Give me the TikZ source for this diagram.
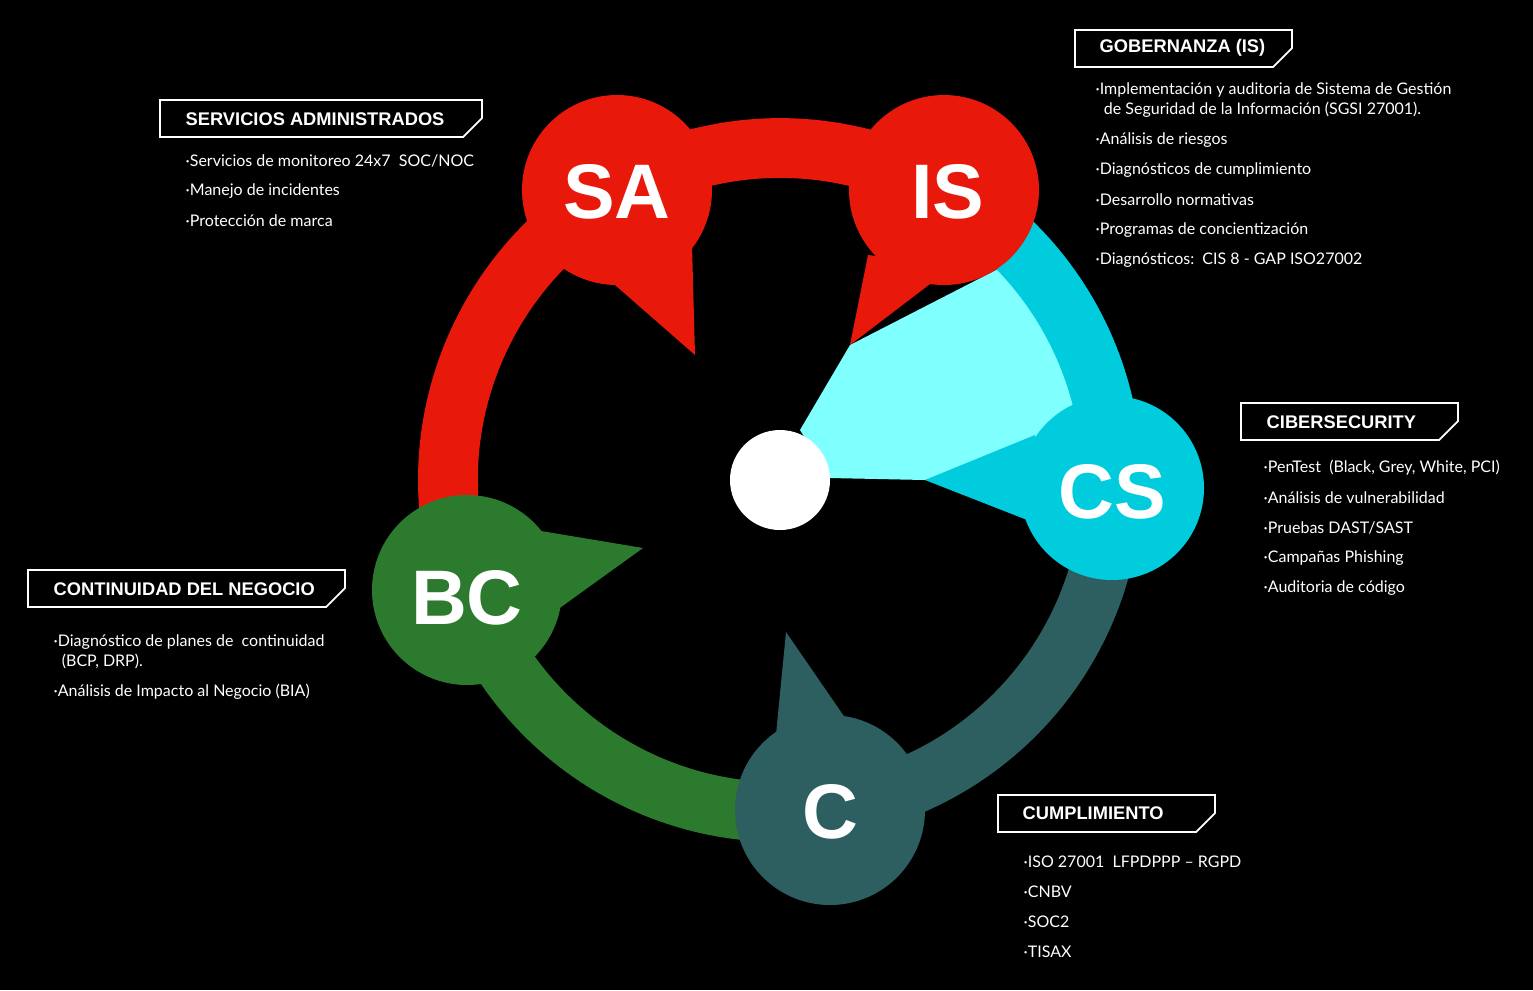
\documentclass[tikz,border=0pt]{standalone}
\usepackage{fontspec}
\setmainfont{Lato}
\newfontfamily\titf{Liberation Sans}
\begin{document}
\begin{tikzpicture}[x=0.01cm,y=-0.01cm,
  ttl/.style={anchor=west,text=white,font=\titf\bfseries\fontsize{5.2}{6}\selectfont,inner sep=0},
  itm/.style={anchor=west,text=white,font=\fontsize{4.55}{5.6}\selectfont,inner sep=0,align=left},
  big/.style={text=white,font=\titf\bfseries\fontsize{22}{24}\selectfont},
  box/.style={draw=white,line width=0.5pt}]
\definecolor{rd}{HTML}{E8190A}
\definecolor{cy}{HTML}{00CCDD}
\definecolor{lc}{HTML}{80FFFF}
\definecolor{tl}{HTML}{2D5F60}
\definecolor{gr}{HTML}{2B7A2D}
\fill[black] (0,0) rectangle (1533,990);
\useasboundingbox (0,0) rectangle (1533,990);
\coordinate (O) at (780,480);
% wedge
\fill[lc] (800,430) -- (850,345) -- (1000,268) arc[start angle=-44,end angle=-8,radius=302] -- (1040,450) -- (925,480) -- (830,478) -- cycle;
% ring
\draw[rd,line width=17pt] (O) ++(-199:332) arc[start angle=-199,end angle=-60,radius=332];
\draw[cy,line width=17pt] (O) ++(-60:332) arc[start angle=-60,end angle=1,radius=332];
\draw[tl,line width=17pt] (O) ++(1:332) arc[start angle=1,end angle=81,radius=332];
\draw[gr,line width=17pt] (O) ++(81:332) arc[start angle=81,end angle=161,radius=332];
% tails
\fill[rd] (615,285) -- (692,245) -- (695,355) -- cycle;
\fill[rd] (868,255) -- (955,265) -- (850,345) -- cycle;
\fill[cy] (1035,435) -- (1040,525) -- (925,480) -- cycle;
\fill[gr] (535,530) -- (550,615) -- (643,548) -- cycle;
\fill[tl] (775,745) -- (850,725) -- (786,632) -- cycle;
% circles
\fill[rd] (617,190) circle (95); \node[big] (sa) at (617,192) {SA};
\fill[rd] (944,190) circle (95); \node[big] (is) at (948,192) {IS};
\fill[cy] (1112,488) circle (92); \node[big] (cs) at (1112,492) {CS};
\fill[tl] (830,810) circle (95); \node[big] (c) at (830,812) {C};
\fill[gr] (467,590) circle (95); \node[big] (bc) at (467,598) {BC};
\fill[white] (O) circle (50);
% boxes
\draw[box] (160,100) -- (482,100) -- (482,118) -- (463,137) -- (160,137) -- cycle;
\node[ttl] (t1) at (185,119) {SERVICIOS ADMINISTRADOS};
\node[itm] at (185,161) {·Servicios de monitoreo 24x7\ \ SOC/NOC};
\node[itm] at (185,191) {·Manejo de incidentes};
\node[itm] at (185,221) {·Protección de marca};

\draw[box] (1075,30) -- (1292,30) -- (1292,48) -- (1273,67) -- (1075,67) -- cycle;
\node[ttl] (t2) at (1099,48) {GOBERNANZA (IS)};
\node[itm] at (1095,100) {·Implementación y auditoria de Sistema de Gestión\\\ \ de Seguridad de la Información (SGSI 27001).};
\node[itm] at (1095,140) {·Análisis de riesgos};
\node[itm] at (1095,170) {·Diagnósticos de cumplimiento};
\node[itm] at (1095,200) {·Desarrollo normativas};
\node[itm] at (1095,230) {·Programas de concientización};
\node[itm] at (1095,260) {·Diagnósticos:\ \ CIS 8 - GAP ISO27002};

\draw[box] (1241,403) -- (1458,403) -- (1458,421) -- (1439,440) -- (1241,440) -- cycle;
\node[ttl] (t3) at (1266,422) {CIBERSECURITY};
\node[itm] at (1263,468) {·PenTest\ \ (Black, Grey, White, PCI)};
\node[itm] at (1263,498) {·Análisis de vulnerabilidad};
\node[itm] at (1263,528) {·Pruebas DAST/SAST};
\node[itm] at (1263,558) {·Campañas Phishing};
\node[itm] at (1263,588) {·Auditoria de código};

\draw[box] (28,570) -- (345,570) -- (345,588) -- (326,607) -- (28,607) -- cycle;
\node[ttl] (t4) at (53,589) {CONTINUIDAD DEL NEGOCIO};
\node[itm] at (53,652) {·Diagnóstico de planes de\ \ continuidad\\\ \ (BCP, DRP).};
\node[itm] at (53,692) {·Análisis de Impacto al Negocio (BIA)};

\draw[box] (998,795) -- (1215,795) -- (1215,813) -- (1196,832) -- (998,832) -- cycle;
\node[ttl] (t5) at (1022,813) {CUMPLIMIENTO};
\node[itm] at (1023,862) {·ISO 27001\ \ LFPDPPP – RGPD};
\node[itm] at (1023,892) {·CNBV};
\node[itm] at (1023,922) {·SOC2};
\node[itm] at (1023,952) {·TISAX};
\end{tikzpicture}
\end{document}
